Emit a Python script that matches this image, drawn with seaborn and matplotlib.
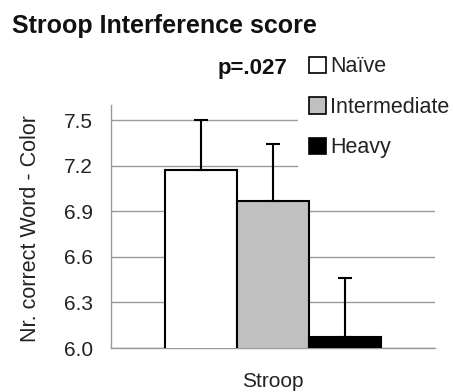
import matplotlib
matplotlib.use("Agg")
import matplotlib.pyplot as plt
import seaborn as sns
import pandas as pd
from matplotlib.patches import Patch

groups = ["Naïve", "Intermediate", "Heavy"]
means = [7.17, 6.97, 6.07]
err_top = [7.50, 7.34, 6.46]
category = ["Stroop"]
yticks = [6.0, 6.3, 6.6, 6.9, 7.2, 7.5]
colors = ["#ffffff", "#c0c0c0", "#000000"]

df = pd.DataFrame({"cat": category * 3, "group": groups, "mean": means})

sns.set_theme(style="white")
plt.rcParams['font.family'] = ['Liberation Sans', 'DejaVu Sans']

W, H = 453, 392
fig = plt.figure(figsize=(W / 100, H / 100), dpi=100)
ax = fig.add_axes([111 / W, 1 - 348 / H, 324 / W, (348 - 105) / H])

sns.barplot(data=df, x="cat", y="mean", hue="group", hue_order=groups,
            palette=colors, width=0.667, edgecolor="black", linewidth=1.5,
            ax=ax, legend=False, errorbar=None, zorder=3)

ax.set_ylim(6.0, 6.0 + 243 / 152)
ax.set_xlim(-0.5, 0.5)

# error bars (upper only) from bar positions
for patch, m, t in zip(ax.patches, means, err_top):
    xc = patch.get_x() + patch.get_width() / 2
    ax.errorbar([xc], [m], yerr=[[0], [t - m]], fmt="none", ecolor="black",
                elinewidth=1.5, capsize=5, capthick=1.5, zorder=4)

ax.set_yticks(yticks)
ax.set_yticklabels([f"{v:.1f}" for v in yticks], fontsize=15, color="#222222")
ax.yaxis.grid(True, color="#9a9a9a", linewidth=1.0, zorder=0)
ax.set_axisbelow(True)
ax.tick_params(axis="y", length=6, width=1.0, color="#999999", direction="out", pad=7)
ax.set_xticks([-0.5, 0.5])
ax.set_xticklabels(["", ""])
ax.tick_params(axis="x", length=5, width=1.0, color="#999999", direction="out")
for s in ["top", "right"]:
    ax.spines[s].set_visible(False)
for s in ["left", "bottom"]:
    ax.spines[s].set_color("#999999")
    ax.spines[s].set_linewidth(1.0)

ax.set_ylabel("")
ax.set_xlabel("")
fig.text(30 / W, 1 - 228.5 / H, "Nr. correct Word - Color", fontsize=15.5,
         rotation=90, va="center", ha="center", color="#222222")
fig.text(273 / W, 1 - 387 / H, "Stroop", fontsize=15, va="baseline",
         ha="center", color="#222222")

fig.text(12 / W, 1 - 33 / H, "Stroop Interference score", fontsize=18,
         fontweight="bold", va="baseline", ha="left", color="#111111")
fig.text(287 / W, 1 - 74 / H, "p=.027", fontsize=16, fontweight="bold",
         va="baseline", ha="right", color="#111111")

handles = [Patch(facecolor=c, edgecolor="black", linewidth=1.2) for c in colors]
leg = fig.legend(handles, groups, loc="upper left", bbox_to_anchor=(298 / W, 1 - 45.5 / H),
                 frameon=True, facecolor="white", edgecolor="none", fontsize=15.5,
                 handlelength=0.8, handleheight=0.8, handletextpad=0.2,
                 labelspacing=0.91, borderaxespad=0, borderpad=0.5)
leg.get_frame().set_alpha(1.0)
for t in leg.get_texts():
    t.set_color("#222222")

fig.savefig("out.png", dpi=100)
